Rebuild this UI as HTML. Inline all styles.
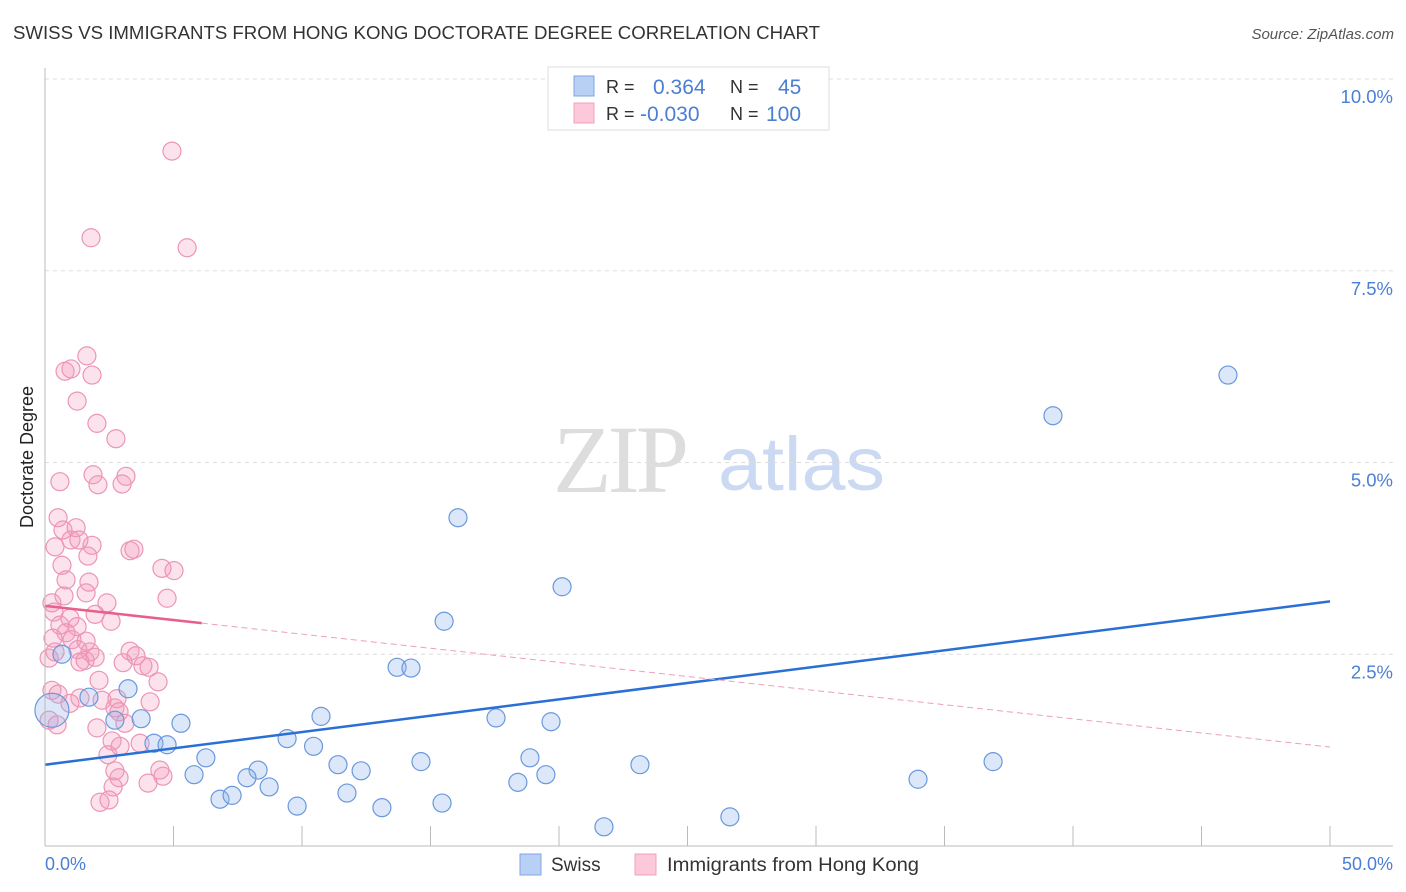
<!DOCTYPE html>
<html><head><meta charset="utf-8"><style>
body{margin:0;background:#fff;font-family:"Liberation Sans",sans-serif}
svg{display:block}
</style></head><body>
<svg width="1406" height="892" id="c">
<text x="13" y="39" font-size="18" fill="#333" textLength="807" lengthAdjust="spacingAndGlyphs">SWISS VS IMMIGRANTS FROM HONG KONG DOCTORATE DEGREE CORRELATION CHART</text>
<text x="1394" y="39" font-size="15" fill="#555" font-style="italic" text-anchor="end">Source: ZipAtlas.com</text>
<text x="33" y="457" font-size="18" fill="#222" text-anchor="middle" transform="rotate(-90 33 457)">Doctorate Degree</text>
<g>
<text x="553" y="492" font-family="Liberation Serif" font-size="96" fill="#ddd" letter-spacing="-4">ZIP</text>
<text x="718" y="490" font-size="76" fill="#cbd9f2" textLength="167" lengthAdjust="spacingAndGlyphs">atlas</text>
</g>
<g id="grid"></g><g id="pts"></g><g id="trend"></g>
<line x1="45" y1="68" x2="45" y2="846" stroke="#bbb"/>
<line x1="45" y1="846" x2="1393" y2="846" stroke="#bbb"/>
<text x="45" y="870" font-size="18" fill="#4a7fd4">0.0%</text>
<text x="1393" y="870" font-size="18" fill="#4a7fd4" text-anchor="end">50.0%</text>
<g>
<rect x="548" y="67" width="281" height="63" fill="#fff" stroke="#ddd"/>
<rect x="574" y="76" width="20" height="20" fill="#b9d0f5" stroke="#7ea5e6"/>
<rect x="574" y="103" width="20" height="20" fill="#fcc8da" stroke="#f0a0bc"/>
<text x="606" y="93" font-size="18" fill="#333">R =</text><text x="653" y="94" font-size="21" fill="#4a7fd4">0.364</text>
<text x="730" y="93" font-size="18" fill="#333">N =</text><text x="778" y="94" font-size="21" fill="#4a7fd4">45</text>
<text x="606" y="120" font-size="18" fill="#333">R =</text><text x="640" y="121" font-size="21" fill="#4a7fd4">-0.030</text>
<text x="730" y="120" font-size="18" fill="#333">N =</text><text x="766" y="121" font-size="21" fill="#4a7fd4">100</text>
</g>
<g>
<rect x="520" y="854" width="21" height="21" fill="#b9d0f5" stroke="#7ea5e6"/>
<text x="551" y="871" font-size="19" fill="#333">Swiss</text>
<rect x="635" y="854" width="21" height="21" fill="#fcc8da" stroke="#f0a0bc"/>
<text x="667" y="871" font-size="19" fill="#333" textLength="252" lengthAdjust="spacingAndGlyphs">Immigrants from Hong Kong</text>
</g>
</svg>
<script>
const yTicks=[2.5,5,7.5,10];
const yTickLabels=["2.5%","5.0%","7.5%","10.0%"];
const xTicks=[0,5,10,15,20,25,30,35,40,45,50];
const swissX=[46.03,39.22,16.07,20.12,15.53,13.70,14.24,3.23,1.71,0.66,2.72,3.74,5.29,10.74,17.55,19.69,4.24,4.75,6.26,9.42,10.45,5.80,8.29,7.86,11.40,12.30,14.63,18.87,19.49,18.40,23.15,36.89,33.97,6.81,7.28,8.72,9.81,11.75,13.11,15.45,21.75,26.65,0.27];
const swissY=[6.14,5.61,4.28,3.38,2.93,2.33,2.32,2.05,1.94,2.50,1.64,1.66,1.60,1.69,1.67,1.62,1.34,1.32,1.15,1.40,1.30,0.93,0.99,0.89,1.06,0.98,1.10,1.15,0.93,0.83,1.06,1.10,0.87,0.61,0.66,0.77,0.52,0.69,0.50,0.56,0.25,0.38,1.77];
const hkX=[4.94,1.79,5.53,1.63,0.78,1.01,1.83,1.25,2.02,2.76,0.58,1.87,2.06,3.15,3.00,0.51,0.70,1.21,0.39,1.01,1.32,1.83,3.31,3.46,0.66,1.67,4.55,5.02,0.82,1.71,4.75,0.74,1.60,0.27,0.35,2.41,1.95,0.97,2.57,0.58,1.25,0.82,0.31,1.05,1.60,0.39,1.28,1.75,0.16,1.56,1.95,1.36,3.31,3.54,3.04,3.81,4.05,2.10,4.40,0.27,0.51,1.36,2.22,2.80,4.09,2.72,2.88,0.97,2.02,3.11,2.61,2.92,3.70,2.45,4.47,4.59,4.01,2.72,2.88,2.65,2.14,2.49,0.16,0.47];
const hkY=[9.06,7.93,7.80,6.39,6.19,6.22,6.14,5.80,5.51,5.31,4.75,4.84,4.71,4.82,4.72,4.28,4.12,4.15,3.90,3.99,3.99,3.92,3.85,3.87,3.66,3.78,3.62,3.59,3.47,3.44,3.23,3.26,3.30,3.17,3.05,3.17,3.02,2.97,2.93,2.88,2.86,2.78,2.71,2.69,2.67,2.53,2.56,2.53,2.45,2.42,2.46,2.40,2.54,2.48,2.39,2.35,2.33,2.16,2.14,2.03,1.98,1.93,1.90,1.92,1.88,1.80,1.75,1.86,1.54,1.60,1.37,1.30,1.34,1.19,0.99,0.91,0.82,0.98,0.89,0.77,0.57,0.60,1.64,1.58];
const swissTrend=[1.06,3.19];
const hkTrend=[3.13,1.29];
const hkSolidEnd=6.1;
const sx=v=>45+v*25.7, sy=v=>846-v*76.7;
const NS="http://www.w3.org/2000/svg";
function mk(t,a,p){const e=document.createElementNS(NS,t);for(const k in a)e.setAttribute(k,a[k]);p.appendChild(e);return e;}
const grid=document.getElementById('grid');
yTicks.forEach((v,i)=>{
 const l=mk('line',{x1:45,x2:1393,y1:sy(v),y2:sy(v),stroke:'#ddd','stroke-dasharray':'4 4'},grid);
 
 
 const t=mk('text',{x:1393,y:sy(v)+24,'font-size':18.5,fill:'#4a7fd4','text-anchor':'end'},grid);
 t.textContent=yTickLabels[i];
 
 
});
xTicks.forEach(v=>{
 const l=mk('line',{x1:sx(v),x2:sx(v),y1:826,y2:846,stroke:'#bbb'},grid);
 
 
});
const pts=document.getElementById('pts');
hkX.forEach((x,i)=>{
 const c=mk('circle',{cx:sx(x),cy:sy(hkY[i]),r:9,fill:'rgba(245,150,185,0.28)',stroke:'#ec95b5','stroke-width':1.2},pts);
 
 
});
swissX.forEach((x,i)=>{
 const c=mk('circle',{cx:sx(x),cy:sy(swissY[i]),r:i===swissX.length-1?17:9,fill:'rgba(140,180,235,0.3)',stroke:'#6a98dc','stroke-width':1.2},pts);
 
 
});
const tr=document.getElementById('trend');
const sl=mk('line',{x1:sx(0),y1:sy(swissTrend[0]),x2:sx(50),y2:sy(swissTrend[1]),stroke:'#2a6fd6','stroke-width':2.5},tr);


const hy=x=>hkTrend[0]+(hkTrend[1]-hkTrend[0])*x/50;
const h1=mk('line',{x1:sx(0),y1:sy(hy(0)),x2:sx(hkSolidEnd),y2:sy(hy(hkSolidEnd)),stroke:'#e8608a','stroke-width':2.5},tr);


const h2=mk('line',{x1:sx(hkSolidEnd),y1:sy(hy(hkSolidEnd)),x2:sx(50),y2:sy(hy(50)),stroke:'#eba0b8','stroke-width':1,'stroke-dasharray':'6 4'},tr);


</script>
</body></html>
